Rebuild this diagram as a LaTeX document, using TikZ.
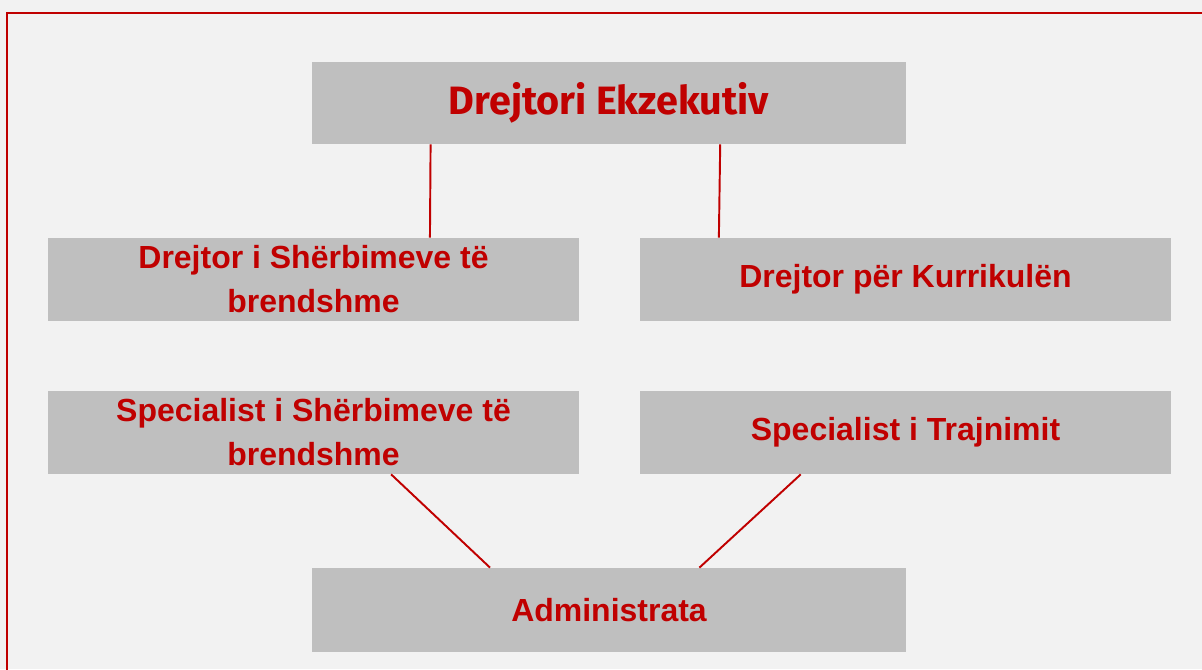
\documentclass[tikz,border=0pt]{standalone}
\usepackage{fontspec}
\setmainfont{Liberation Sans}
\newfontfamily\titlefont{Fira Sans}
\usetikzlibrary{calc}
\definecolor{page}{RGB}{242,242,242}
\definecolor{box}{RGB}{191,191,191}
\definecolor{ink}{RGB}{192,0,0}

\begin{document}
\begin{tikzpicture}[font=\fontsize{18.2}{25}\selectfont\bfseries,
  role/.style={fill=box, text=ink, align=center, minimum width=10.62cm, minimum height=1.66cm, inner sep=0pt},
  head/.style={role, minimum width=11.88cm, minimum height=1.64cm, font=\titlefont\fontsize{22.5}{25}\selectfont\bfseries},
  ln/.style={draw=ink, line width=1.1pt}]

\useasboundingbox[fill=page] (0,0) rectangle (24.04,13.38);
\clip (0,0) rectangle (24.04,13.38);
\draw[ink, line width=1.2pt] (0.14,-1) rectangle (25,13.12);

\node[head] at (12.18,11.32) (ceo) {Drejtori Ekzekutiv};

\node[role] at (6.27,7.79) (dsb) {Drejtor i Shërbimeve të\\ brendshme};
\node[role] at (18.11,7.79) (dk) {Drejtor për Kurrikulën};

\node[role] at (6.27,4.73) (ssb) {Specialist i Shërbimeve të\\ brendshme};
\node[role] at (18.11,4.73) (st) {Specialist i Trajnimit};

\node[head, font=\fontsize{18.2}{25}\selectfont\bfseries, minimum height=1.68cm] at (12.18,1.18) (adm) {Administrata};

\draw[ln] ($(ceo.south west)!0.2!(ceo.south east)$) -- ($(dsb.north west)!0.719!(dsb.north east)$);
\draw[ln] ($(ceo.south west)!0.687!(ceo.south east)$) -- ($(dk.north west)!0.149!(dk.north east)$);
\draw[ln] ($(ssb.south west)!0.646!(ssb.south east)$) -- ($(adm.north west)!0.3!(adm.north east)$);
\draw[ln] ($(st.south west)!0.303!(st.south east)$) -- ($(adm.north west)!0.652!(adm.north east)$);
\end{tikzpicture}
\end{document}
